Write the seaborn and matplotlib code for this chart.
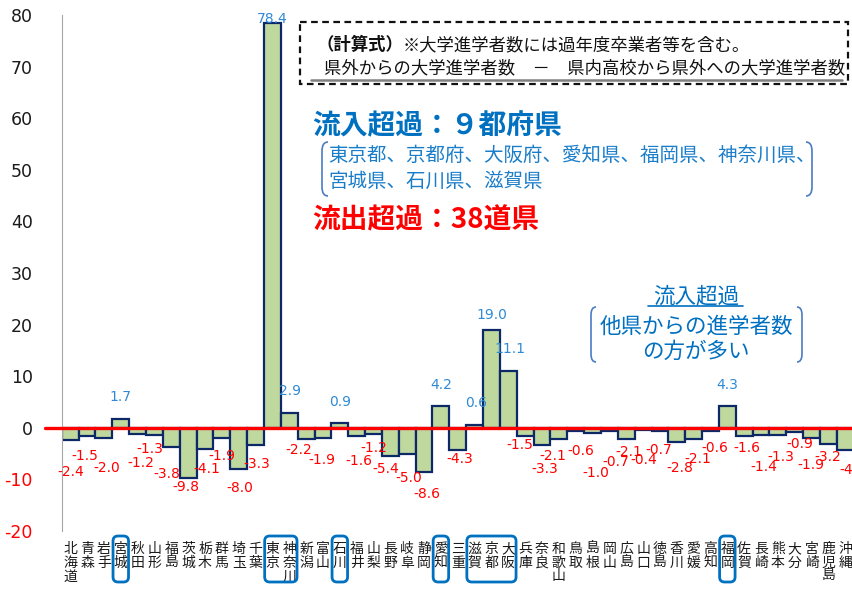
import matplotlib
matplotlib.use("Agg")
import matplotlib.pyplot as plt
import matplotlib.transforms as mtransforms
from matplotlib.patches import FancyBboxPatch, Rectangle, PathPatch
from matplotlib.path import Path
import seaborn as sns
import pandas as pd

# data (net university-entrant inflow, per prefecture)
prefectures = ["北海道", "青森", "岩手", "宮城", "秋田", "山形", "福島", "茨城", "栃木", "群馬",
               "埼玉", "千葉", "東京", "神奈川", "新潟", "富山", "石川", "福井", "山梨", "長野",
               "岐阜", "静岡", "愛知", "三重", "滋賀", "京都", "大阪", "兵庫", "奈良", "和歌山",
               "鳥取", "島根", "岡山", "広島", "山口", "徳島", "香川", "愛媛", "高知", "福岡",
               "佐賀", "長崎", "熊本", "大分", "宮崎", "鹿児島", "沖縄"]
net_inflow = [-2.4, -1.5, -2.0, 1.7, -1.2, -1.3, -3.8, -9.8, -4.1, -1.9,
              -8.0, -3.3, 78.4, 2.9, -2.2, -1.9, 0.9, -1.6, -1.2, -5.4,
              -5.0, -8.6, 4.2, -4.3, 0.6, 19.0, 11.1, -1.5, -3.3, -2.1,
              -0.6, -1.0, -0.7, -2.1, -0.4, -0.7, -2.8, -2.1, -0.6, 4.3,
              -1.6, -1.4, -1.3, -0.9, -1.9, -3.2, -4.3]
y_ticks = [-20, -10, 0, 10, 20, 30, 40, 50, 60, 70, 80]
boxed_groups = [("宮城", "宮城"), ("東京", "神奈川"), ("石川", "石川"),
                ("愛知", "愛知"), ("滋賀", "大阪"), ("福岡", "福岡")]

# hand-placed data label offsets (pixels away from the bar end / sideways)
label_dy = [32, 20, 30, 22, 29, 14, 27, 9, 20, 18, 19, 19, 4, 22, 11, 22, 21, 25, 14, 13,
            24, 22, 21, 9, 22, 15, 22, 9, 24, 17, 20, 40, 31, 13, 30, 19, 26, 20, 17, 21,
            12, 32, 22, 12, 27, 13, 20]
label_dx = [1, -2, 3, 0, 3, -5, -5, -2, 2, 0, 1, 1, 0, 1, -7, -1, 0, 2, 0, -5,
            2, 3, 0, 2, 2, 0, 2, -5, 3, -6, 5, 3, 6, 3, 1, -1, 3, 4, 4, 0,
            3, 3, 3, 5, -1, -1, 7]

W, H = 852, 593
JP = ["Noto Sans CJK JP", "DejaVu Sans"]
BLUE = "#0070C0"

sns.set_style("white")
plt.rcParams["font.family"] = ["DejaVu Sans", "Noto Sans CJK JP"]

fig = plt.figure(figsize=(W / 100, H / 100), dpi=100)
ax = fig.add_axes([61.8 / W, 1 - 531 / H, 791.9 / W, 516 / H])

df = pd.DataFrame({"pref": prefectures, "value": net_inflow})
sns.barplot(data=df, x="pref", y="value", order=prefectures, color="#BFD89E",
            saturation=1, edgecolor="#0D2866", linewidth=1.6, width=1.0, ax=ax, zorder=2)

ax.set_xlim(-0.5, len(prefectures) - 0.5)
ax.set_ylim(-20, 80)
ax.set_xlabel("")
ax.set_ylabel("")

# y axis
ax.set_yticks(y_ticks)
ax.set_yticklabels([str(v) for v in y_ticks])
ax.tick_params(axis="y", direction="out", length=6, width=1, color="#A6A6A6",
               labelsize=12.5, pad=15)
for lbl, v in zip(ax.get_yticklabels(), y_ticks):
    lbl.set_color("#FF0000" if v < 0 else "#1A1A1A")

# category axis sits on zero, ticks at the category boundaries
ax.set_xticks([i - 0.5 for i in range(len(prefectures) + 1)])
ax.set_xticklabels([])
ax.tick_params(axis="x", direction="out", length=5, width=1, color="#A6A6A6")
ax.spines["bottom"].set_position(("data", 0))
ax.spines["bottom"].set_color("#A6A6A6")
ax.spines["left"].set_color("#A6A6A6")
ax.spines["top"].set_visible(False)
ax.spines["right"].set_visible(False)
ax.grid(False)

ax.axhline(0, xmin=-0.021, xmax=1, color="#FF0000", lw=2.4, clip_on=False, zorder=6)

# data labels
for i, v in enumerate(net_inflow):
    sign = 1 if v >= 0 else -1
    ax.annotate(f"{v:.1f}", (i, v), xytext=(label_dx[i], sign * label_dy[i]),
                textcoords="offset pixels", ha="center", va="center", fontsize=10,
                color="#2E8AD6" if v >= 0 else "#FF0000", zorder=7, annotation_clip=False)

# vertical prefecture names under the plot
lab_tr = mtransforms.blended_transform_factory(ax.transData, ax.transAxes)
for i, name in enumerate(prefectures):
    ax.text(i, -0.021, "\n".join(name), transform=lab_tr, ha="center", va="top",
            fontsize=10, family=JP, color="#1A1A1A", linespacing=0.98, clip_on=False)

# image-pixel coordinates (origin top-left) for the annotations
px = mtransforms.Affine2D().scale(1 / W, -1 / H).translate(0, 1) + fig.transFigure


def data_to_px(x):
    return ax.transData.transform([(x, 0)])[0][0]


for first, last in boxed_groups:
    x0 = data_to_px(prefectures.index(first) - 0.46)
    x1 = data_to_px(prefectures.index(last) + 0.46)
    box = FancyBboxPatch((x0, 536), x1 - x0, 46, boxstyle="round,pad=0,rounding_size=5",
                         transform=px, fill=False, edgecolor=BLUE, lw=2.0)
    fig.add_artist(box)


def bracket(x, top, bottom, side, r=9, w=6):
    # side = 1 for "(", -1 for ")"
    xi = x + side * w
    verts = [(xi, top), (x, top), (x, top + r), (x, bottom - r), (x, bottom), (xi, bottom)]
    codes = [Path.MOVETO, Path.CURVE3, Path.CURVE3, Path.LINETO, Path.CURVE3, Path.CURVE3]
    fig.add_artist(PathPatch(Path(verts, codes), transform=px, fill=False,
                             edgecolor="#4A7CC4", lw=1.2))


# formula box
fig.add_artist(Rectangle((300, 22), 548, 62, transform=px, fill=False, edgecolor="#111111",
                         lw=1.6, ls=(0, (3, 2))))
t1 = fig.text(316, 45, "（計算式）", transform=px, family=JP, fontsize=12.5,
              fontweight="bold", va="center", ha="left", color="#111111")
ax.annotate("※大学進学者数には過年度卒業者等を含む。", xy=(1, 0.5), xycoords=t1,
            va="center", ha="left", family=JP, fontsize=12.5, color="#111111")
fig.text(324, 68, "県外からの大学進学者数　－　県内高校から県外への大学進学者数", transform=px,
         family=JP, fontsize=12.5, va="center", ha="left", color="#111111")
fig.add_artist(plt.Line2D([311, 842], [80, 80], transform=px, color="#808080", lw=1.8))

# inflow / outflow summary
fig.text(312, 126, "流入超過：９都府県", transform=px, family=JP, fontsize=20,
         fontweight="bold", color=BLUE, va="center", ha="left")
fig.text(328, 155, "東京都、京都府、大阪府、愛知県、福岡県、神奈川県、", transform=px, family=JP,
         fontsize=14, color="#1A7DC9", va="center", ha="left")
fig.text(328, 181, "宮城県、石川県、滋賀県", transform=px, family=JP,
         fontsize=14, color="#1A7DC9", va="center", ha="left")
bracket(322, 142, 196, 1)
bracket(812, 142, 196, -1)
fig.text(312, 220, "流出超過：38道県", transform=px, family=JP, fontsize=20,
         fontweight="bold", color="#FF0000", va="center", ha="left")

# legend-like note on the right
fig.text(696, 296, "流入超過", transform=px, family=JP, fontsize=15.5, color=BLUE,
         va="center", ha="center")
fig.add_artist(plt.Line2D([648, 743], [306, 306], transform=px, color=BLUE, lw=1.2))
fig.text(696, 327, "他県からの進学者数", transform=px, family=JP, fontsize=15.5, color=BLUE,
         va="center", ha="center")
fig.text(696, 352, "の方が多い", transform=px, family=JP, fontsize=15.5, color=BLUE,
         va="center", ha="center")
bracket(591, 307, 362, 1, r=8, w=5)
bracket(802, 307, 362, -1, r=8, w=5)

fig.savefig("out.png", dpi=100)
